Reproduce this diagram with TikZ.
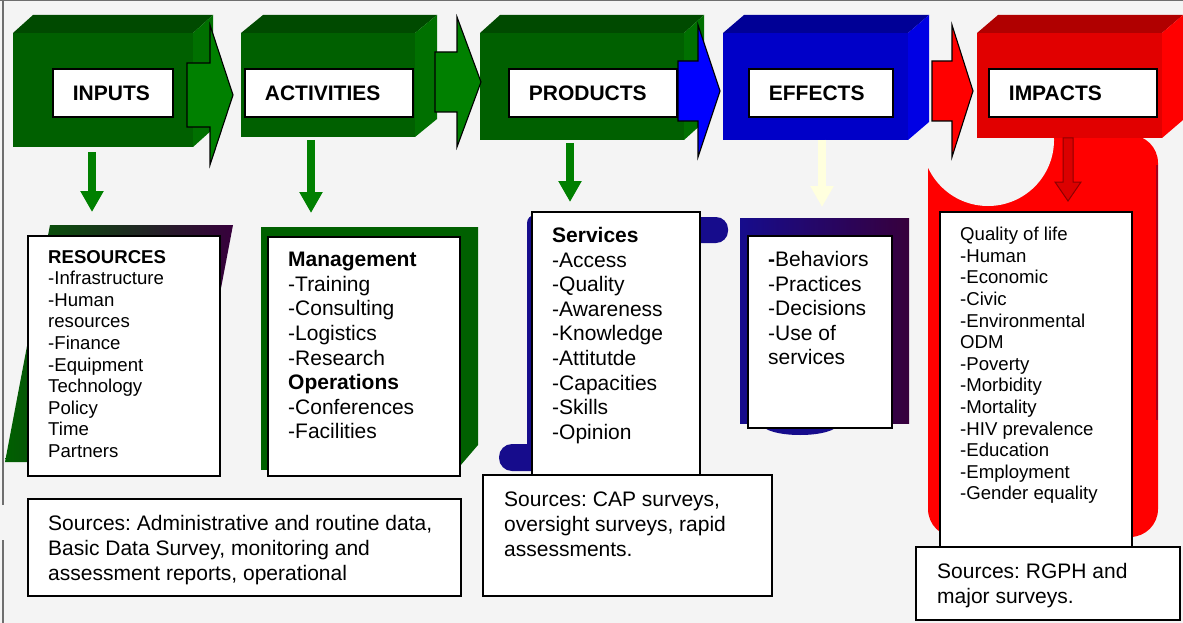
\documentclass[tikz,border=0pt]{standalone}
\usepackage{fontspec}
\setmainfont{Liberation Sans}
\usetikzlibrary{calc,arrows.meta}
\frenchspacing
\definecolor{bg}{RGB}{244,244,244}
\definecolor{gfront}{RGB}{0,96,0}
\definecolor{gtop}{RGB}{0,74,0}
\definecolor{gside}{RGB}{0,112,0}
\definecolor{garrow}{RGB}{0,128,0}
\definecolor{bfront}{RGB}{0,0,200}
\definecolor{btop}{RGB}{0,0,150}
\definecolor{bside}{RGB}{0,0,228}
\definecolor{barrow}{RGB}{0,0,255}
\definecolor{rfront}{RGB}{225,0,0}
\definecolor{rtop}{RGB}{176,0,0}
\definecolor{rside}{RGB}{255,0,0}
\definecolor{rarrow}{RGB}{255,0,0}
\definecolor{navyblob}{RGB}{22,12,140}
\definecolor{dpurple}{RGB}{55,0,60}
\definecolor{effarrow}{RGB}{255,255,222}
\definecolor{framecol}{RGB}{110,110,110}
\newcommand\boxfaces[4]{%
  \fill[#2] (#1.north west) -- ++(#4,-18) -- ($(#1.north east)+(#4,-18)$) -- (#1.north east) -- cycle;
  \fill[#3] (#1.north east) -- ++(#4,-18) -- ($(#1.south east)+(#4,-18)$) -- (#1.south east) -- cycle;}
\newcommand\blockarrow[7]{%
  \filldraw[blockarrowstyle, fill=#7] (#1,#4-#5) -- (#2,#4-#5) -- (#2,#4-#6) -- (#3,#4) -- (#2,#4+#6) -- (#2,#4+#5) -- (#1,#4+#5) -- cycle;}
\tikzset{
  face/.style={inner sep=0pt, outer sep=0pt},
  lbl/.style={draw=black, line width=1.8pt, fill=white, inner ysep=0pt, inner xsep=20pt,
    minimum height=48pt, align=left, anchor=north west,
    font=\fontsize{21}{24}\selectfont\bfseries},
  listbox/.style={draw=black, line width=1.8pt, fill=white, inner sep=0pt, outer sep=0pt, anchor=north west},
  listtxt/.style={anchor=north west, inner sep=0pt, align=left},
  smalltxt/.style={font=\fontsize{18.6}{21.6}\selectfont},
  bigtxt/.style={font=\fontsize{21}{24.6}\selectfont},
  srctxt/.style={font=\fontsize{21}{24.8}\selectfont},
  blockarrowstyle/.style={draw=black, line width=1.1pt, line join=miter},
  downarrow/.style={line width=8.5pt, -{Triangle[length=21pt,width=22pt]}}
}
\begin{document}
\begin{tikzpicture}[x=1pt, y={(0,-1pt)}]
\useasboundingbox (0,0) rectangle (1183,623);
\fill[bg] (0,0) rectangle (1183,623);
\draw[framecol, line width=1pt] (0,1) -- (1183,1);
\draw[framecol, line width=1.5pt] (3,0) -- (3,505);
\draw[framecol, line width=1.5pt] (3,540) -- (3,623);

% red scroll behind impacts list
\fill[rarrow, rounded corners=28pt] (928,135) rectangle (1158,537);
\draw[dpurple, opacity=0.45, line width=2pt] (1157,165) -- (1157,420);
\fill[bg] (988,140) circle (66pt);

% blurred backgrounds of the lists
\shade[left color=gfront, middle color=gfront!85!black, right color=dpurple]
  (50,225) -- (233,225) -- (188,462) -- (5,462) -- cycle;
\fill[gfront] (261,227) -- (478,227) -- (478,445) -- (460,466) -- (261,470) -- cycle;
\fill[navyblob, rounded corners=8pt] (527,215) rectangle (699,470);
\fill[navyblob, rounded corners=12pt] (680,217) rectangle (728,243);
\fill[navyblob, rounded corners=13pt] (499,444) rectangle (545,471);
\fill[navyblob] (800,424) ellipse (38pt and 11pt);
\shade[left color=navyblob, middle color=navyblob, right color=dpurple] (740,218) rectangle (909,423);

% 3D boxes
\node[face, fill=gfront, minimum width=180pt, minimum height=114pt] (inputs) at (103,90) {};
\boxfaces{inputs}{gtop}{gside}{20}
\node[face, fill=gfront, minimum width=174pt, minimum height=104pt] (activities) at (328,85) {};
\boxfaces{activities}{gtop}{gside}{22}
\node[face, fill=gfront, minimum width=204pt, minimum height=107pt] (products) at (582,86.5) {};
\boxfaces{products}{gtop}{gside}{20}
\node[face, fill=bfront, minimum width=185pt, minimum height=107pt] (effects) at (815.5,86.5) {};
\boxfaces{effects}{btop}{bside}{21}
\node[face, fill=rfront, minimum width=185pt, minimum height=105pt] (impacts) at (1069.5,85.5) {};
\boxfaces{impacts}{rtop}{rside}{21}

% block arrows between the boxes
\blockarrow{187}{210}{233}{95}{32}{70}{garrow}
\blockarrow{435}{457}{481}{82}{30}{65}{garrow}
\blockarrow{678}{698}{720}{91}{30}{66}{barrow}
\blockarrow{932}{952}{973}{91}{30}{66}{rarrow}

% labels
\node[lbl, text width=80pt] (inputsL) at (52,68) {INPUTS};
\node[lbl, text width=128pt] (activitiesL) at (244,68) {ACTIVITIES};
\node[lbl, text width=128pt] (productsL) at (508,68) {PRODUCTS};
\node[lbl, text width=104pt] (effectsL) at (748,68) {EFFECTS};
\node[lbl, text width=128pt] (impactsL) at (988,68) {IMPACTS};

% down arrows
\coordinate (a1s) at (92,152);   \coordinate (a1e) at (92,212);
\coordinate (a2s) at (311,140);  \coordinate (a2e) at (311,213);
\coordinate (a3s) at (570,143);  \coordinate (a3e) at (570,202);
\coordinate (a4s) at (822,140);  \coordinate (a4e) at (822,207);
\draw[downarrow, garrow] (a1s) -- (a1e);
\draw[downarrow, garrow] (a2s) -- (a2e);
\draw[downarrow, garrow] (a3s) -- (a3e);
\draw[downarrow, effarrow] (a4s) -- (a4e);
\filldraw[fill=red!86!black, draw=red!55!black, line width=1pt]
  (1063,138) -- (1073,138) -- (1073,182) -- (1081,182) -- (1068,201) -- (1055,182) -- (1063,182) -- cycle;

% list boxes
\node[listbox, minimum width=192pt, minimum height=240pt] (res) at (28,236) {};
\node[listtxt, smalltxt] (resT) at ($(res.north west)+(20,14)$)
  {\textbf{RESOURCES}\\-Infrastructure\\-Human\\resources\\-Finance\\-Equipment\\Technology\\Policy\\Time\\Partners};

\node[listbox, minimum width=192pt, minimum height=239pt] (mgmt) at (268,237) {};
\node[listtxt, bigtxt] (mgmtT) at ($(mgmt.north west)+(20,15)$)
  {\textbf{Management}\\-Training\\-Consulting\\-Logistics\\-Research\\\textbf{Operations}\\-Conferences\\-Facilities};

\node[listbox, minimum width=168pt, minimum height=264pt] (serv) at (532,212) {};
\node[listtxt, bigtxt] (servT) at ($(serv.north west)+(20,15)$)
  {\textbf{Services}\\-Access\\-Quality\\-Awareness\\-Knowledge\\-Attitutde\\-Capacities\\-Skills\\-Opinion};

\node[listbox, minimum width=144pt, minimum height=192pt] (eff) at (748,236) {};
\node[listtxt, bigtxt] (effT) at ($(eff.north west)+(20,15)$)
  {\textbf{-}Behaviors\\-Practices\\-Decisions\\-Use of\\services};

\node[listbox, minimum width=192pt, minimum height=336pt] (imp) at (940,212) {};
\node[listtxt, smalltxt] (impT) at ($(imp.north west)+(20,15)$)
  {Quality of life\\-Human\\-Economic\\-Civic\\-Environmental\\ODM\\-Poverty\\-Morbidity\\-Mortality\\-HIV prevalence\\-Education\\-Employment\\-Gender equality};

% sources boxes
\node[listbox, minimum width=433pt, minimum height=97pt] (src1) at (28,499) {};
\node[listtxt, srctxt] (src1T) at ($(src1.north west)+(20,16)$)
  {Sources: Administrative and routine data,\\Basic Data Survey, monitoring and\\assessment reports, operational};

\node[listbox, minimum width=289pt, minimum height=121pt] (src2) at (483,475) {};
\node[listtxt, srctxt] (src2T) at ($(src2.north west)+(21,17)$)
  {Sources: CAP surveys,\\oversight surveys, rapid\\assessments.};

\node[listbox, minimum width=264pt, minimum height=73pt] (src3) at (916,547) {};
\node[listtxt, srctxt] (src3T) at ($(src3.north west)+(21,16)$)
  {Sources: RGPH and\\major surveys.};
\end{tikzpicture}
\end{document}
